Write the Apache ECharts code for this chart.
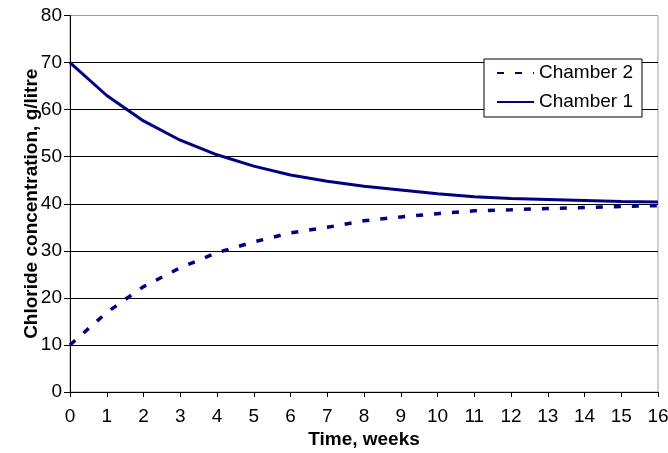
<!DOCTYPE html>
<html>
<head>
<meta charset="utf-8">
<script src="https://cdn.jsdelivr.net/npm/echarts@6/dist/echarts.min.js"></script>
<style>
html,body{margin:0;padding:0;background:#fff;}
#chart{width:668px;height:453px;}
</style>
</head>
<body>
<div id="chart"></div>
<script>
const weeks = [0,1,2,3,4,5,6,7,8,9,10,11,12,13,14,15,16];
const chamber1 = [70,63.0,57.6,53.5,50.4,48.0,46.1,44.8,43.7,42.9,42.1,41.5,41.1,40.9,40.7,40.5,40.35];
const chamber2 = [10,16.9,22.4,26.4,29.6,31.9,33.8,35.0,36.4,37.2,37.9,38.5,38.7,39.0,39.2,39.4,39.6];
const seriesNames = ['Chamber 2','Chamber 1'];
const xTitle = 'Time, weeks';
const yTitle = 'Chloride concentration, g/litre';

const pairs = (ys) => weeks.map((w,i)=>[w, ys[i]]);
const font = 'Liberation Sans, Arial, sans-serif';
const navy = '#000080';

const chart = echarts.init(document.getElementById('chart'), null, {renderer:'canvas'});
chart.setOption({
  animation:false,
  backgroundColor:'#fff',
  grid:{left:70,right:10,top:15.5,bottom:61,outerBoundsMode:'none',containLabel:false,
        show:true,borderColor:'#a0a0a0',borderWidth:1,backgroundColor:'transparent'},
  legend:{
    orient:'vertical', left:484, top:59,
    data:seriesNames,
    backgroundColor:'#fff', borderColor:'#000', borderWidth:1,
    padding:[4,9,5,12], itemGap:9, itemWidth:37, itemHeight:14,
    itemStyle:{opacity:0},
    textStyle:{fontFamily:font,fontSize:19,color:'#000',lineHeight:20}
  },
  xAxis:{
    type:'value', min:0, max:16, interval:1,
    name:xTitle, nameLocation:'middle', nameGap:38, nameMoveOverlap:false,
    nameTextStyle:{fontFamily:font,fontSize:19,fontWeight:'bold',color:'#000'},
    axisLine:{lineStyle:{color:'#000',width:1}},
    axisTick:{show:true,length:5,lineStyle:{color:'#000'}},
    axisLabel:{fontFamily:font,fontSize:19,color:'#000',margin:15},
    splitLine:{show:false}
  },
  yAxis:{
    type:'value', min:0, max:80, interval:10,
    name:yTitle, nameLocation:'middle', nameGap:29, nameRotate:90, nameMoveOverlap:false,
    nameTextStyle:{fontFamily:font,fontSize:19,fontWeight:'bold',color:'#000'},
    axisLine:{show:true,lineStyle:{color:'#000',width:1}},
    axisTick:{show:true,length:6,lineStyle:{color:'#000'}},
    axisLabel:{fontFamily:font,fontSize:19,color:'#000',margin:8},
    splitLine:{show:true,showMaxLine:false,lineStyle:{color:'#000',width:1}}
  },
  series:[
    {name:seriesNames[0],type:'line',data:pairs(chamber2),symbol:'none',
     lineStyle:{color:navy,width:3.5,type:[7,11]},itemStyle:{color:navy},z:3},
    {name:seriesNames[1],type:'line',data:pairs(chamber1),symbol:'none',
     lineStyle:{color:navy,width:3},itemStyle:{color:navy},z:4}
  ]
});
</script>
</body>
</html>
